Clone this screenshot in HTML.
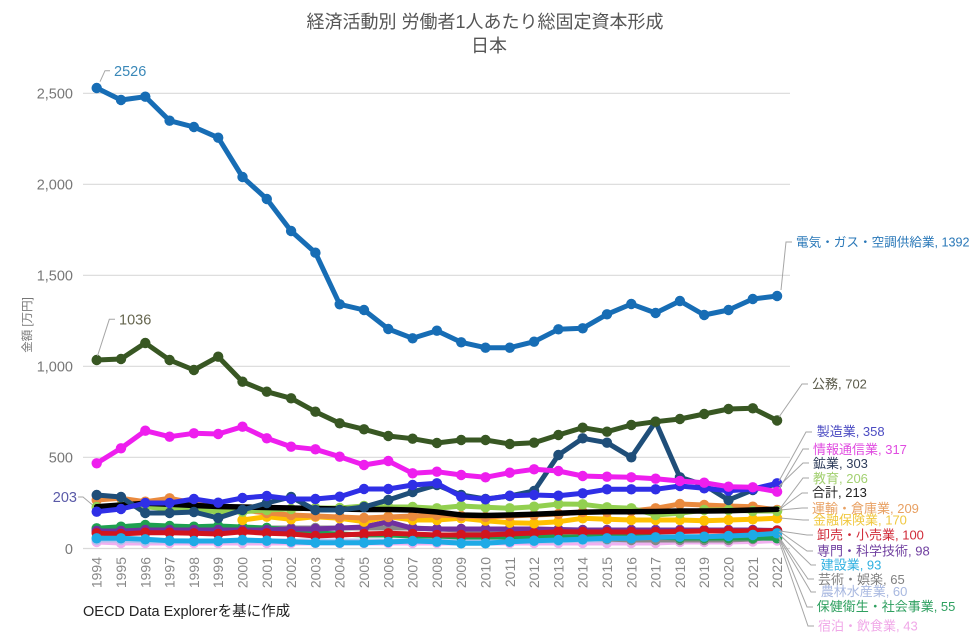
<!DOCTYPE html>
<html><head><meta charset="utf-8"><style>
html,body{margin:0;padding:0;background:#fff;}
svg{display:block;}
text{font-family:"Liberation Sans","Noto Sans CJK JP",sans-serif;}
</style></head><body>
<svg width="975" height="636" viewBox="0 0 975 636" xmlns="http://www.w3.org/2000/svg">
<defs>
<marker id="mE" markerUnits="userSpaceOnUse" markerWidth="12" markerHeight="12" refX="6" refY="6" overflow="visible"><circle cx="6" cy="6" r="5.2" fill="#176db5"/></marker>
<marker id="mK" markerUnits="userSpaceOnUse" markerWidth="12" markerHeight="12" refX="6" refY="6" overflow="visible"><circle cx="6" cy="6" r="5.2" fill="#385723"/></marker>
<marker id="mM" markerUnits="userSpaceOnUse" markerWidth="12" markerHeight="12" refX="6" refY="6" overflow="visible"><circle cx="6" cy="6" r="5.2" fill="#ee1eee"/></marker>
<marker id="mN" markerUnits="userSpaceOnUse" markerWidth="12" markerHeight="12" refX="6" refY="6" overflow="visible"><circle cx="6" cy="6" r="5.2" fill="#1f4e79"/></marker>
<marker id="mB" markerUnits="userSpaceOnUse" markerWidth="12" markerHeight="12" refX="6" refY="6" overflow="visible"><circle cx="6" cy="6" r="5.2" fill="#2f2fe6"/></marker>
<marker id="mG" markerUnits="userSpaceOnUse" markerWidth="12" markerHeight="12" refX="6" refY="6" overflow="visible"><circle cx="6" cy="6" r="5.2" fill="#92d050"/></marker>
<marker id="mO" markerUnits="userSpaceOnUse" markerWidth="12" markerHeight="12" refX="6" refY="6" overflow="visible"><circle cx="6" cy="6" r="5.2" fill="#ea8a3e"/></marker>
<marker id="mY" markerUnits="userSpaceOnUse" markerWidth="12" markerHeight="12" refX="6" refY="6" overflow="visible"><circle cx="6" cy="6" r="5.2" fill="#ffc000"/></marker>
<marker id="mH" markerUnits="userSpaceOnUse" markerWidth="12" markerHeight="12" refX="6" refY="6" overflow="visible"><circle cx="6" cy="6" r="5.2" fill="#1ea050"/></marker>
<marker id="mR" markerUnits="userSpaceOnUse" markerWidth="12" markerHeight="12" refX="6" refY="6" overflow="visible"><circle cx="6" cy="6" r="5.2" fill="#d2141e"/></marker>
<marker id="mP" markerUnits="userSpaceOnUse" markerWidth="12" markerHeight="12" refX="6" refY="6" overflow="visible"><circle cx="6" cy="6" r="5.2" fill="#7030a0"/></marker>
<marker id="mC" markerUnits="userSpaceOnUse" markerWidth="12" markerHeight="12" refX="6" refY="6" overflow="visible"><circle cx="6" cy="6" r="5.2" fill="#1eaae6"/></marker>
<marker id="mA" markerUnits="userSpaceOnUse" markerWidth="12" markerHeight="12" refX="6" refY="6" overflow="visible"><circle cx="6" cy="6" r="5.2" fill="#888888"/></marker>
<marker id="mL" markerUnits="userSpaceOnUse" markerWidth="12" markerHeight="12" refX="6" refY="6" overflow="visible"><circle cx="6" cy="6" r="5.2" fill="#b4c0ec"/></marker>
<marker id="mS" markerUnits="userSpaceOnUse" markerWidth="12" markerHeight="12" refX="6" refY="6" overflow="visible"><circle cx="6" cy="6" r="5.2" fill="#f0b0f0"/></marker>
</defs>

<!-- title -->
<text x="485" y="28" text-anchor="middle" font-size="18" fill="#555">経済活動別 労働者1人あたり総固定資本形成</text>
<text x="489" y="52" text-anchor="middle" font-size="18" fill="#555">日本</text>

<!-- gridlines -->
<g stroke="#d9d9d9" stroke-width="1.2">
<line x1="83" y1="93.3" x2="790" y2="93.3"/>
<line x1="83" y1="184.3" x2="790" y2="184.3"/>
<line x1="83" y1="275.3" x2="790" y2="275.3"/>
<line x1="83" y1="366.3" x2="790" y2="366.3"/>
<line x1="83" y1="457.3" x2="790" y2="457.3"/>
<line x1="83" y1="548.5" x2="790" y2="548.5"/>
</g>

<!-- y tick labels -->
<g font-size="14.5" fill="#777" text-anchor="end">
<text x="73" y="98.5">2,500</text>
<text x="73" y="189.5">2,000</text>
<text x="73" y="280.5">1,500</text>
<text x="73" y="371.5">1,000</text>
<text x="73" y="462.5">500</text>
<text x="73" y="554">0</text>
</g>
<text x="77" y="502" text-anchor="end" font-size="14.5" fill="#5a5aa8">203</text>
<polyline points="78,497 83,497 95,507" fill="none" stroke="#a6a6a6" stroke-width="1"/>

<!-- y axis title -->
<text transform="translate(31,325) rotate(-90)" text-anchor="middle" font-size="11.5" fill="#777">金額 [万円]</text>

<!-- x tick labels -->
<g font-size="14" fill="#888" text-anchor="end">
<text transform="translate(101.7,557) rotate(-90)">1994</text>
<text transform="translate(126,557) rotate(-90)">1995</text>
<text transform="translate(150.3,557) rotate(-90)">1996</text>
<text transform="translate(174.6,557) rotate(-90)">1997</text>
<text transform="translate(198.9,557) rotate(-90)">1998</text>
<text transform="translate(223.2,557) rotate(-90)">1999</text>
<text transform="translate(247.5,557) rotate(-90)">2000</text>
<text transform="translate(271.8,557) rotate(-90)">2001</text>
<text transform="translate(296.1,557) rotate(-90)">2002</text>
<text transform="translate(320.4,557) rotate(-90)">2003</text>
<text transform="translate(344.7,557) rotate(-90)">2004</text>
<text transform="translate(369,557) rotate(-90)">2005</text>
<text transform="translate(393.3,557) rotate(-90)">2006</text>
<text transform="translate(417.6,557) rotate(-90)">2007</text>
<text transform="translate(441.9,557) rotate(-90)">2008</text>
<text transform="translate(466.2,557) rotate(-90)">2009</text>
<text transform="translate(490.5,557) rotate(-90)">2010</text>
<text transform="translate(514.8,557) rotate(-90)">2011</text>
<text transform="translate(539.1,557) rotate(-90)">2012</text>
<text transform="translate(563.4,557) rotate(-90)">2013</text>
<text transform="translate(587.7,557) rotate(-90)">2014</text>
<text transform="translate(612,557) rotate(-90)">2015</text>
<text transform="translate(636.3,557) rotate(-90)">2016</text>
<text transform="translate(660.6,557) rotate(-90)">2017</text>
<text transform="translate(684.9,557) rotate(-90)">2018</text>
<text transform="translate(709.2,557) rotate(-90)">2019</text>
<text transform="translate(733.5,557) rotate(-90)">2020</text>
<text transform="translate(757.8,557) rotate(-90)">2021</text>
<text transform="translate(782.1,557) rotate(-90)">2022</text>
</g>

<!-- series -->
<g fill="none" stroke-width="5" stroke-linejoin="round" stroke-linecap="round">
<polyline stroke="#f0b0f0" marker-start="url(#mS)" marker-mid="url(#mS)" marker-end="url(#mS)" points="96.7,542 121,543 145.3,543 169.6,543 193.9,543 218.2,543 242.5,543 266.8,543 291.1,543 315.4,543 339.7,543 364,543 388.3,543 412.6,543 436.9,543 461.2,543 485.5,543 509.8,543 534.1,543 558.4,543 582.7,543 607,543 631.3,543 655.6,543 679.9,542 704.2,542 728.5,542 752.8,541.5 777.1,540.5"/>
<polyline stroke="#b4c0ec" marker-start="url(#mL)" marker-mid="url(#mL)" marker-end="url(#mL)" points="96.7,540 121,540 145.3,541 169.6,541 193.9,541 218.2,541 242.5,541 266.8,541 291.1,541 315.4,541 339.7,541 364,541 388.3,541 412.6,541 436.9,541 461.2,541 485.5,541 509.8,541 534.1,541 558.4,541 582.7,540 607,540 631.3,540 655.6,540 679.9,539 704.2,539 728.5,539 752.8,538 777.1,537.4"/>
<polyline stroke="#888888" marker-start="url(#mA)" marker-mid="url(#mA)" marker-end="url(#mA)" points="96.7,530 121,530 145.3,529 169.6,529 193.9,529 218.2,528 242.5,528 266.8,528 291.1,528 315.4,528 339.7,528 364,528 388.3,528 412.6,528 436.9,529 461.2,530 485.5,532 509.8,534 534.1,536 558.4,537 582.7,538 607,539 631.3,540 655.6,540 679.9,540 704.2,540 728.5,540 752.8,539 777.1,536.5"/>
<polyline stroke="#1ea050" marker-start="url(#mH)" marker-mid="url(#mH)" marker-end="url(#mH)" points="96.7,528.3 121,526.7 145.3,525 169.6,526 193.9,526.7 218.2,526 242.5,527 266.8,528 291.1,530 315.4,533 339.7,534 364,535 388.3,535 412.6,536 436.9,536 461.2,537 485.5,537 509.8,537 534.1,537 558.4,537 582.7,537 607,537 631.3,537 655.6,537 679.9,538 704.2,538 728.5,538 752.8,538 777.1,538.3"/>
<polyline stroke="#7030a0" marker-start="url(#mP)" marker-mid="url(#mP)" marker-end="url(#mP)" points="96.7,531 121,531 145.3,530 169.6,530 193.9,530 218.2,530 242.5,530 266.8,530 291.1,529 315.4,529 339.7,528 364,527 388.3,521.7 412.6,528.3 436.9,529 461.2,529 485.5,529 509.8,529 534.1,529 558.4,529.5 582.7,530 607,530 631.3,530 655.6,530 679.9,530 704.2,530 728.5,530 752.8,530 777.1,530.5"/>
<polyline stroke="#d2141e" marker-start="url(#mR)" marker-mid="url(#mR)" marker-end="url(#mR)" points="96.7,533.3 121,534 145.3,532.7 169.6,532.7 193.9,533.3 218.2,534 242.5,531.7 266.8,533.3 291.1,534 315.4,536 339.7,535 364,534 388.3,533.3 412.6,534 436.9,535 461.2,535 485.5,535 509.8,534 534.1,533 558.4,531.7 582.7,532 607,532 631.3,532 655.6,532 679.9,531.5 704.2,531 728.5,531 752.8,531 777.1,530.7"/>
<polyline stroke="#1eaae6" marker-start="url(#mC)" marker-mid="url(#mC)" marker-end="url(#mC)" points="96.7,538.3 121,538.3 145.3,539.3 169.6,540.7 193.9,541 218.2,541 242.5,540 266.8,540.7 291.1,541.7 315.4,542.7 339.7,542.7 364,542.7 388.3,542 412.6,541 436.9,541.7 461.2,543.3 485.5,543.3 509.8,541.7 534.1,540.7 558.4,540 582.7,539.3 607,538.3 631.3,538.3 655.6,537.3 679.9,536.7 704.2,536.7 728.5,536 752.8,535 777.1,533.3"/>
<polyline stroke="#ffc000" marker-start="url(#mY)" marker-mid="url(#mY)" marker-end="url(#mY)" points="242.5,520 266.8,516.7 291.1,519.3 315.4,516.7 339.7,518.3 364,521.7 388.3,516.7 412.6,520 436.9,520 461.2,518.3 485.5,520.7 509.8,522.7 534.1,523.3 558.4,521.7 582.7,518.3 607,519.3 631.3,520 655.6,520 679.9,520 704.2,520.7 728.5,520 752.8,519.3 777.1,518.3"/>
<polyline stroke="#ea8a3e" marker-start="url(#mO)" marker-mid="url(#mO)" marker-end="url(#mO)" points="96.7,500 121,498.3 145.3,501.7 169.6,498.3 193.9,503 218.2,507 242.5,510 266.8,513 291.1,515 315.4,516 339.7,517 364,518 388.3,517 412.6,516 436.9,515 461.2,516 485.5,517 509.8,516 534.1,515 558.4,514 582.7,512 607,512 631.3,511 655.6,508.3 679.9,504 704.2,505 728.5,506 752.8,506.7 777.1,510"/>
<polyline stroke="#92d050" marker-start="url(#mG)" marker-mid="url(#mG)" marker-end="url(#mG)" points="96.7,507 121,506 145.3,506.7 169.6,509 193.9,510 218.2,511.7 242.5,511.7 266.8,510 291.1,509 315.4,508 339.7,508 364,506 388.3,507 412.6,507 436.9,508.3 461.2,506 485.5,507.3 509.8,508.3 534.1,506.7 558.4,504 582.7,504.3 607,507.3 631.3,508.3 655.6,515 679.9,513.3 704.2,510 728.5,510 752.8,511 777.1,511"/>
<polyline stroke="#000" stroke-width="5.5" points="96.7,506.7 121,505 145.3,503.3 169.6,504.3 193.9,505.5 218.2,506.5 242.5,507 266.8,507.5 291.1,508 315.4,508.5 339.7,509 364,509.5 388.3,509.5 412.6,510 436.9,512 461.2,515 485.5,515.5 509.8,515 534.1,514.3 558.4,513.3 582.7,512.3 607,511.7 631.3,511.7 655.6,511.5 679.9,511 704.2,511 728.5,510.7 752.8,510 777.1,509.3"/>
<polyline stroke="#1f4e79" marker-start="url(#mN)" marker-mid="url(#mN)" marker-end="url(#mN)" points="96.7,495 121,497 145.3,513 169.6,513 193.9,512 218.2,518 242.5,510 266.8,503 291.1,497 315.4,510 339.7,510 364,507 388.3,500 412.6,492 436.9,485 461.2,495 485.5,499 509.8,496 534.1,491 558.4,455 582.7,438.3 607,442.7 631.3,457.3 655.6,421.7 679.9,477.3 704.2,485 728.5,500 752.8,490 777.1,484"/>
<polyline stroke="#2f2fe6" marker-start="url(#mB)" marker-mid="url(#mB)" marker-end="url(#mB)" points="96.7,511.7 121,509 145.3,503 169.6,503 193.9,499 218.2,502.7 242.5,498 266.8,496 291.1,499 315.4,499 339.7,496.7 364,489 388.3,489 412.6,485 436.9,483.3 461.2,496.7 485.5,499.3 509.8,495.7 534.1,495 558.4,495.7 582.7,493.3 607,489.3 631.3,489.3 655.6,489.3 679.9,486 704.2,488.3 728.5,490.7 752.8,489 777.1,483.3"/>
<polyline stroke="#ee1eee" marker-start="url(#mM)" marker-mid="url(#mM)" marker-end="url(#mM)" points="96.7,463.3 121,448.3 145.3,430.7 169.6,436.7 193.9,433.3 218.2,434 242.5,426.7 266.8,438.3 291.1,446.7 315.4,449.3 339.7,456.7 364,465 388.3,461 412.6,473.3 436.9,471.7 461.2,475 485.5,477.3 509.8,472.7 534.1,469.3 558.4,471 582.7,476 607,476.7 631.3,477.3 655.6,478.7 679.9,481 704.2,482.7 728.5,486.7 752.8,487.3 777.1,491.7"/>
<polyline stroke="#385723" marker-start="url(#mK)" marker-mid="url(#mK)" marker-end="url(#mK)" points="96.7,360 121,359 145.3,343 169.6,360 193.9,370 218.2,356.7 242.5,381.7 266.8,391.7 291.1,398.3 315.4,411.7 339.7,423.3 364,429.3 388.3,436 412.6,438.7 436.9,443 461.2,440 485.5,440 509.8,444 534.1,442.7 558.4,435 582.7,427.7 607,431.7 631.3,425 655.6,421.7 679.9,419 704.2,414 728.5,409 752.8,408.3 777.1,420.5"/>
<polyline stroke="#176db5" marker-start="url(#mE)" marker-mid="url(#mE)" marker-end="url(#mE)" points="96.7,88 121,100 145.3,96.7 169.6,120.7 193.9,127 218.2,137.7 242.5,177 266.8,199 291.1,231 315.4,252.7 339.7,304.3 364,310 388.3,329 412.6,338.3 436.9,330.7 461.2,342.3 485.5,347.7 509.8,347.7 534.1,341.7 558.4,329.3 582.7,328.3 607,314.3 631.3,304 655.6,313 679.9,301 704.2,315 728.5,310 752.8,299 777.1,296"/>
</g>

<!-- leader lines -->
<g fill="none" stroke="#a6a6a6" stroke-width="1">
<polyline points="100,81.7 105,70.7 110,70.7"/>
<polyline points="97.5,356 109.3,319.3 115,319.3"/>
<polyline points="781,290 786,242 792,242"/>
<polyline points="779,417 802,384 808,384"/>
<polyline points="779,481 806,432 812,432"/>
<polyline points="779,489 803,449 809,449"/>
<polyline points="779,486 803,463 809,463"/>
<polyline points="779,510 803,478 809,478"/>
<polyline points="780,509 802,493 808,493"/>
<polyline points="780,510 802,508 808,508"/>
<polyline points="780,518 803,520 809,520"/>
<polyline points="780,531 807,535 813,535"/>
<polyline points="779,531 807,551 813,551"/>
<polyline points="779,534 811,565 816,565"/>
<polyline points="779,537 808,579 814,579"/>
<polyline points="779,538 811,592 816,592"/>
<polyline points="779,538 807,607 813,607"/>
<polyline points="779,541 808,626 814,626"/>
</g>

<!-- data labels -->
<g font-size="14.5">
<text x="114" y="76" fill="#3a88b8">2526</text>
<text x="119" y="324.5" fill="#66664f">1036</text>
</g>
<g font-size="13">
<text x="796" y="246.5" fill="#2a78b8" font-size="12.6">電気・ガス・空調供給業, 1392</text>
<text x="812" y="388.5" fill="#5a5a4a">公務, 702</text>
<text x="816.7" y="436.2" fill="#4b4bc2">製造業, 358</text>
<text x="813" y="453.8" fill="#e04ce0">情報通信業, 317</text>
<text x="813" y="467.8" fill="#2e3c5a">鉱業, 303</text>
<text x="813" y="482.8" fill="#a2d070">教育, 206</text>
<text x="812" y="497.2" fill="#222">合計, 213</text>
<text x="812" y="512.8" fill="#e8a062">運輸・倉庫業, 209</text>
<text x="813" y="524.5" fill="#f0c840">金融保険業, 170</text>
<text x="817" y="539.5" fill="#d02a38">卸売・小売業, 100</text>
<text x="817" y="555.5" fill="#7040a0">専門・科学技術, 98</text>
<text x="820.7" y="569.5" fill="#30b0e0">建設業, 93</text>
<text x="818" y="583.8" fill="#808080">芸術・娯楽, 65</text>
<text x="820.7" y="596.2" fill="#a8b8e0">農林水産業, 60</text>
<text x="816.7" y="611.2" fill="#2fa060">保健衛生・社会事業, 55</text>
<text x="818" y="630.5" fill="#f0a8e8">宿泊・飲食業, 43</text>
</g>

<!-- source -->
<text x="83" y="616" font-size="14.5" fill="#222">OECD Data Explorerを基に作成</text>
</svg>
</body></html>
